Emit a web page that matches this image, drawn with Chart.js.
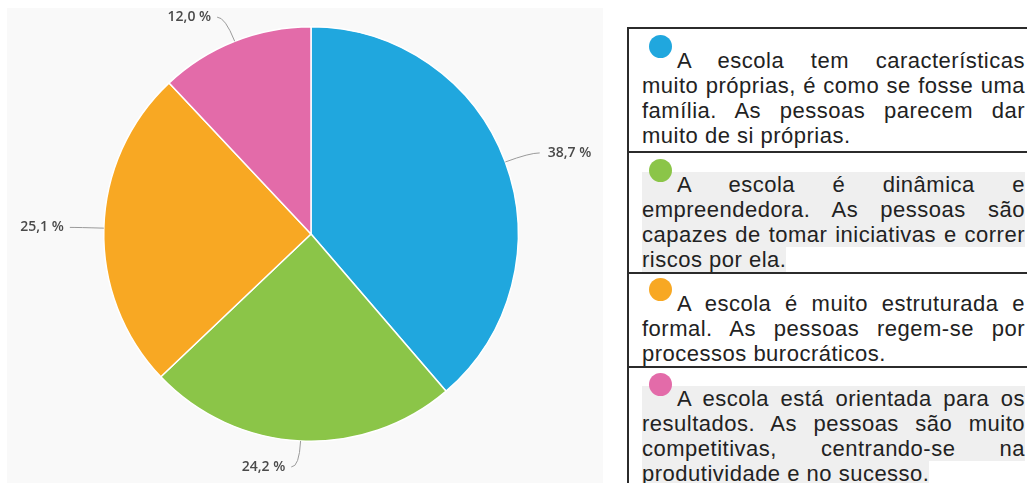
<!DOCTYPE html>
<html>
<head>
<meta charset="utf-8">
<script src="https://cdn.jsdelivr.net/npm/chart.js@4/dist/chart.umd.min.js"></script>
<style>
  body { margin: 0; width: 1027px; height: 483px; overflow: hidden; background: #fff; position: relative; }
  #panel { position: absolute; left: 7px; top: 8px; width: 596px; height: 475px; background: #f9f9f9; }
  #legend { position: absolute; left: 627px; top: 27px; border-collapse: collapse; width: max-content;
            font-family: "Liberation Sans", Arial, sans-serif; font-size: 22px; letter-spacing: 0.5px;
            line-height: 25px; color: #222; }
  #legend td { border: 2px solid #2b2b2b; width: 383px; min-width: 383px; padding: 6px 30px 0 13px;
               vertical-align: top; text-align: justify; }
  #legend tr:first-child td { padding-bottom: 3px; }
  #legend tr:nth-child(3) td { padding-top: 4px; }
  #legend tr:nth-child(4) td { padding-top: 5px; }
  #legend .dot { display: inline-block; width: 23px; height: 23px; border-radius: 50%;
                 vertical-align: 10px; margin: 0 5px 0 7px; }
  #legend tr:nth-child(even) span.txt { background: #efefef; }
</style>
</head>
<body>
<div id="panel"><canvas id="chart"></canvas></div>
<table id="legend"><tbody></tbody></table>
<script>
// Data
const categories = [
    'A escola tem características muito próprias, é como se fosse uma família. As pessoas parecem dar muito de si próprias.',
    'A escola é dinâmica e empreendedora. As pessoas são capazes de tomar iniciativas e correr riscos por ela.',
    'A escola é muito estruturada e formal. As pessoas regem-se por processos burocráticos.',
    'A escola está orientada para os resultados. As pessoas são muito competitivas, centrando-se na produtividade e no sucesso.'
];
const percentages = [38.7, 24.2, 25.1, 12.0];
const sliceColors = ['#20a7de', '#8bc548', '#f8a823', '#e36ba9'];

// Legend table on the right
const tbody = document.querySelector('#legend tbody');
categories.forEach((text, i) => {
    const tr = document.createElement('tr');
    const td = document.createElement('td');
    const span = document.createElement('span');
    span.className = 'txt';
    const dot = document.createElement('span');
    dot.className = 'dot';
    dot.style.background = sliceColors[i];
    span.appendChild(dot);
    span.appendChild(document.createTextNode(text));
    td.appendChild(span);
    tr.appendChild(td);
    tbody.appendChild(tr);
});

// Percentage labels with curved connectors
const pieLabels = {
    id: 'pieLabels',
    afterDatasetsDraw(chart) {
        const ctx = chart.ctx;
        const meta = chart.getDatasetMeta(0);
        meta.data.forEach((arc, i) => {
            const p = arc.getProps(['x', 'y', 'startAngle', 'endAngle', 'outerRadius'], true);
            const mid = (p.startAngle + p.endAngle) / 2;
            const cos = Math.cos(mid), sin = Math.sin(mid);
            const x0 = p.x + cos * p.outerRadius, y0 = p.y + sin * p.outerRadius;
            const x1 = p.x + cos * (p.outerRadius + 26), y1 = p.y + sin * (p.outerRadius + 26);
            const right = cos >= 0;
            const x2 = x1 + (right ? 10 : -8);

            ctx.save();
            ctx.strokeStyle = '#9a9a9a';
            ctx.lineWidth = 1;
            ctx.beginPath();
            ctx.moveTo(x0, y0);
            ctx.quadraticCurveTo(x1, y1, x2, y1);
            ctx.stroke();

            ctx.fillStyle = '#4a4a4a';
            ctx.font = '600 14px "Open Sans", sans-serif';
            ctx.textBaseline = 'middle';
            ctx.textAlign = right ? 'left' : 'right';
            const label = percentages[i].toFixed(1).replace('.', ',') + ' %';
            ctx.fillText(label, x2 + (right ? 8 : -6), y1);
            ctx.restore();
        });
    }
};

const ctx = document.getElementById('chart').getContext('2d');
new Chart(ctx, {
    type: 'pie',
    data: {
        labels: categories,
        datasets: [{
            data: percentages,
            backgroundColor: sliceColors,
            borderColor: '#ffffff',
            borderWidth: 1.5
        }]
    },
    options: {
        responsive: true,
        maintainAspectRatio: false,
        animation: false,
        layout: {
            padding: { top: 18, bottom: 41, left: 96, right: 84 }
        },
        plugins: {
            legend: { display: false },
            tooltip: { enabled: false }
        }
    },
    plugins: [pieLabels]
});
</script>
</body>
</html>
